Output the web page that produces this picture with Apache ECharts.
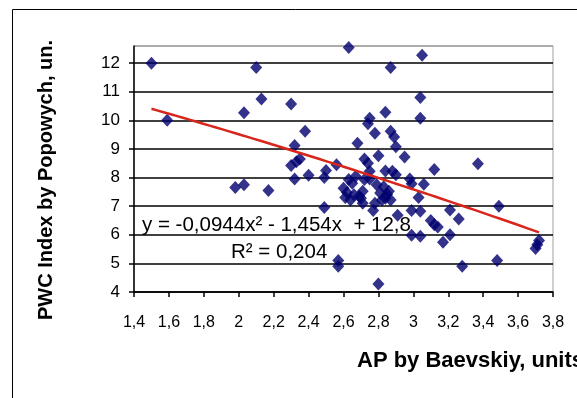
<!DOCTYPE html>
<html>
<head>
<meta charset="utf-8">
<script src="https://cdn.jsdelivr.net/npm/echarts@6/dist/echarts.min.js"></script>
<style>
  html, body { margin: 0; padding: 0; background: #fff; }
  #chart { width: 577px; height: 398px; }
</style>
</head>
<body>
<div id="chart"></div>
<script>
// AP (Baevskiy) vs PWC index (Popowych), one point per subject
const apValues = [
  1.50, 1.59, 1.98, 2.03, 2.03, 2.10, 2.13, 2.17, 2.30, 2.38,
  2.32, 2.30, 2.33, 2.35, 2.32, 2.40, 2.49, 2.49, 2.50, 2.56,
  2.57, 2.57, 2.63, 2.68, 2.75, 2.74, 2.78, 2.72, 2.74, 2.80,
  2.84, 2.87, 2.87, 2.89, 2.90, 2.95, 2.84, 2.90, 2.98, 2.99,
  3.06, 3.05, 3.04, 3.04, 3.12, 3.37, 3.03, 2.99, 3.04, 2.91,
  2.99, 3.04, 3.10, 3.12, 3.14, 3.21, 3.26, 3.21, 3.17, 3.28,
  3.48, 3.49, 3.72, 3.71, 3.70, 2.80, 2.60, 2.62, 2.61, 2.65,
  2.67, 2.63, 2.64, 2.69, 2.71, 2.72, 2.75, 2.71, 2.77, 2.78,
  2.79, 2.81, 2.83, 2.82, 2.84, 2.86, 2.87, 2.85, 2.88, 2.75,
  2.66, 2.70
];
const pwcValues = [
  12.00, 10.00, 7.65, 7.75, 10.27, 11.85, 10.75, 7.55, 10.57, 9.62,
  9.12, 8.42, 8.55, 8.65, 7.95, 8.08, 6.95, 8.00, 8.25, 8.45,
  5.10, 4.90, 12.55, 9.20, 10.07, 9.88, 9.55, 8.65, 8.50, 8.76,
  10.28, 11.85, 9.62, 9.42, 9.08, 8.72, 8.23, 8.10, 7.95, 7.78,
  7.77, 12.28, 10.80, 10.07, 8.28, 8.48, 7.30, 6.85, 6.82, 6.68,
  5.98, 5.95, 6.50, 6.35, 6.27, 6.87, 6.55, 6.00, 5.74, 4.90,
  5.10, 7.00, 5.80, 5.65, 5.52, 4.28, 7.63, 7.48, 7.30, 7.80,
  8.05, 7.93, 7.22, 7.35, 7.10, 7.93, 8.22, 7.52, 6.85, 7.10,
  7.75, 7.46, 7.68, 7.22, 7.28, 7.52, 7.22, 7.42, 8.22, 7.95,
  7.40, 7.28
];

// Polynomial trend (order 2) as stated on the chart: c0 + c1*x + c2*x^2
const trendCoef = [12.8, -1.454, -0.0944];
const trendRange = [1.5, 3.72];
const trendLabel = 'y = -0,0944x\u00B2 - 1,454x  + 12,8';
const r2Label = 'R\u00B2 = 0,204';

const xTitle = 'AP by Baevskiy, units';
const yTitle = 'PWC Index by Popowych, un.';

const points = apValues.map((x, i) => [x, pwcValues[i]]);
const trendPoints = [];
for (let i = 0; i <= 60; i++) {
  const x = trendRange[0] + (trendRange[1] - trendRange[0]) * i / 60;
  trendPoints.push([x, trendCoef[0] + trendCoef[1] * x + trendCoef[2] * x * x]);
}

const FONT = '"Liberation Sans", Arial, sans-serif';
const chart = echarts.init(document.getElementById('chart'), null, { renderer: 'canvas' });

// black gridlines at whole units, grey edge line at the top of the plot
const splitColors = [];
for (let i = 0; i < 9; i++) splitColors.push('#000');
splitColors.push('#a0a0a0');

chart.setOption({
  animation: false,
  backgroundColor: '#fff',
  grid: {
    left: 134, right: 24, top: 46, bottom: 106,
    show: true, borderColor: '#a0a0a0', borderWidth: 1, backgroundColor: '#fff'
  },
  xAxis: {
    type: 'value', min: 1.4, max: 3.8, interval: 0.2,
    axisLine: { show: true, onZero: false, lineStyle: { color: '#000', width: 1.5 } },
    axisTick: { show: true, inside: false, length: 5, lineStyle: { color: '#000', width: 1.5 } },
    splitLine: { show: false },
    axisLabel: {
      color: '#000', fontFamily: FONT, fontSize: 16, margin: 23,
      formatter: v => String(+v.toFixed(1)).replace('.', ',')
    }
  },
  yAxis: {
    type: 'value', min: 4, max: 12.6, interval: 1,
    axisLine: { show: true, onZero: false, lineStyle: { color: '#000', width: 1.5 } },
    axisTick: { show: true, inside: false, length: 5, lineStyle: { color: '#000', width: 1.5 } },
    splitLine: { show: true, lineStyle: { color: splitColors, width: 1.5 } },
    axisLabel: {
      color: '#000', fontFamily: FONT, fontSize: 17, margin: 14,
      showMaxLabel: false,
      formatter: v => (Math.abs(v - Math.round(v)) < 1e-6 ? String(Math.round(v)) : '')
    }
  },
  graphic: [
    {
      type: 'rect', z: 0, silent: true,
      shape: { x: 12.5, y: 9.5, width: 620, height: 420 },
      style: { fill: null, stroke: '#000', lineWidth: 1 }
    },
    {
      type: 'text', z: 100, x: 357, y: 361,
      style: { text: xTitle, fill: '#000', font: 'bold 22px ' + FONT, align: 'left', verticalAlign: 'middle' }
    },
    {
      type: 'text', z: 100, x: 46, y: 180, rotation: Math.PI / 2,
      style: { text: yTitle, fill: '#000', font: 'bold 20px ' + FONT, align: 'center', verticalAlign: 'middle' }
    },
    {
      type: 'text', z: 1, x: 142, y: 225,
      style: { text: trendLabel, fill: '#000', font: '20.5px ' + FONT, align: 'left', verticalAlign: 'middle' }
    },
    {
      type: 'text', z: 1, x: 231, y: 252,
      style: { text: r2Label, fill: '#000', font: '20.5px ' + FONT, align: 'left', verticalAlign: 'middle' }
    }
  ],
  series: [
    {
      type: 'scatter', data: points, symbol: 'diamond', symbolSize: [12, 13], z: 3,
      itemStyle: { color: '#00006e' }
    },
    {
      type: 'line', data: trendPoints, showSymbol: false, smooth: false, z: 4,
      lineStyle: { color: '#d8261c', width: 2.5 }
    }
  ]
});
</script>
</body>
</html>
